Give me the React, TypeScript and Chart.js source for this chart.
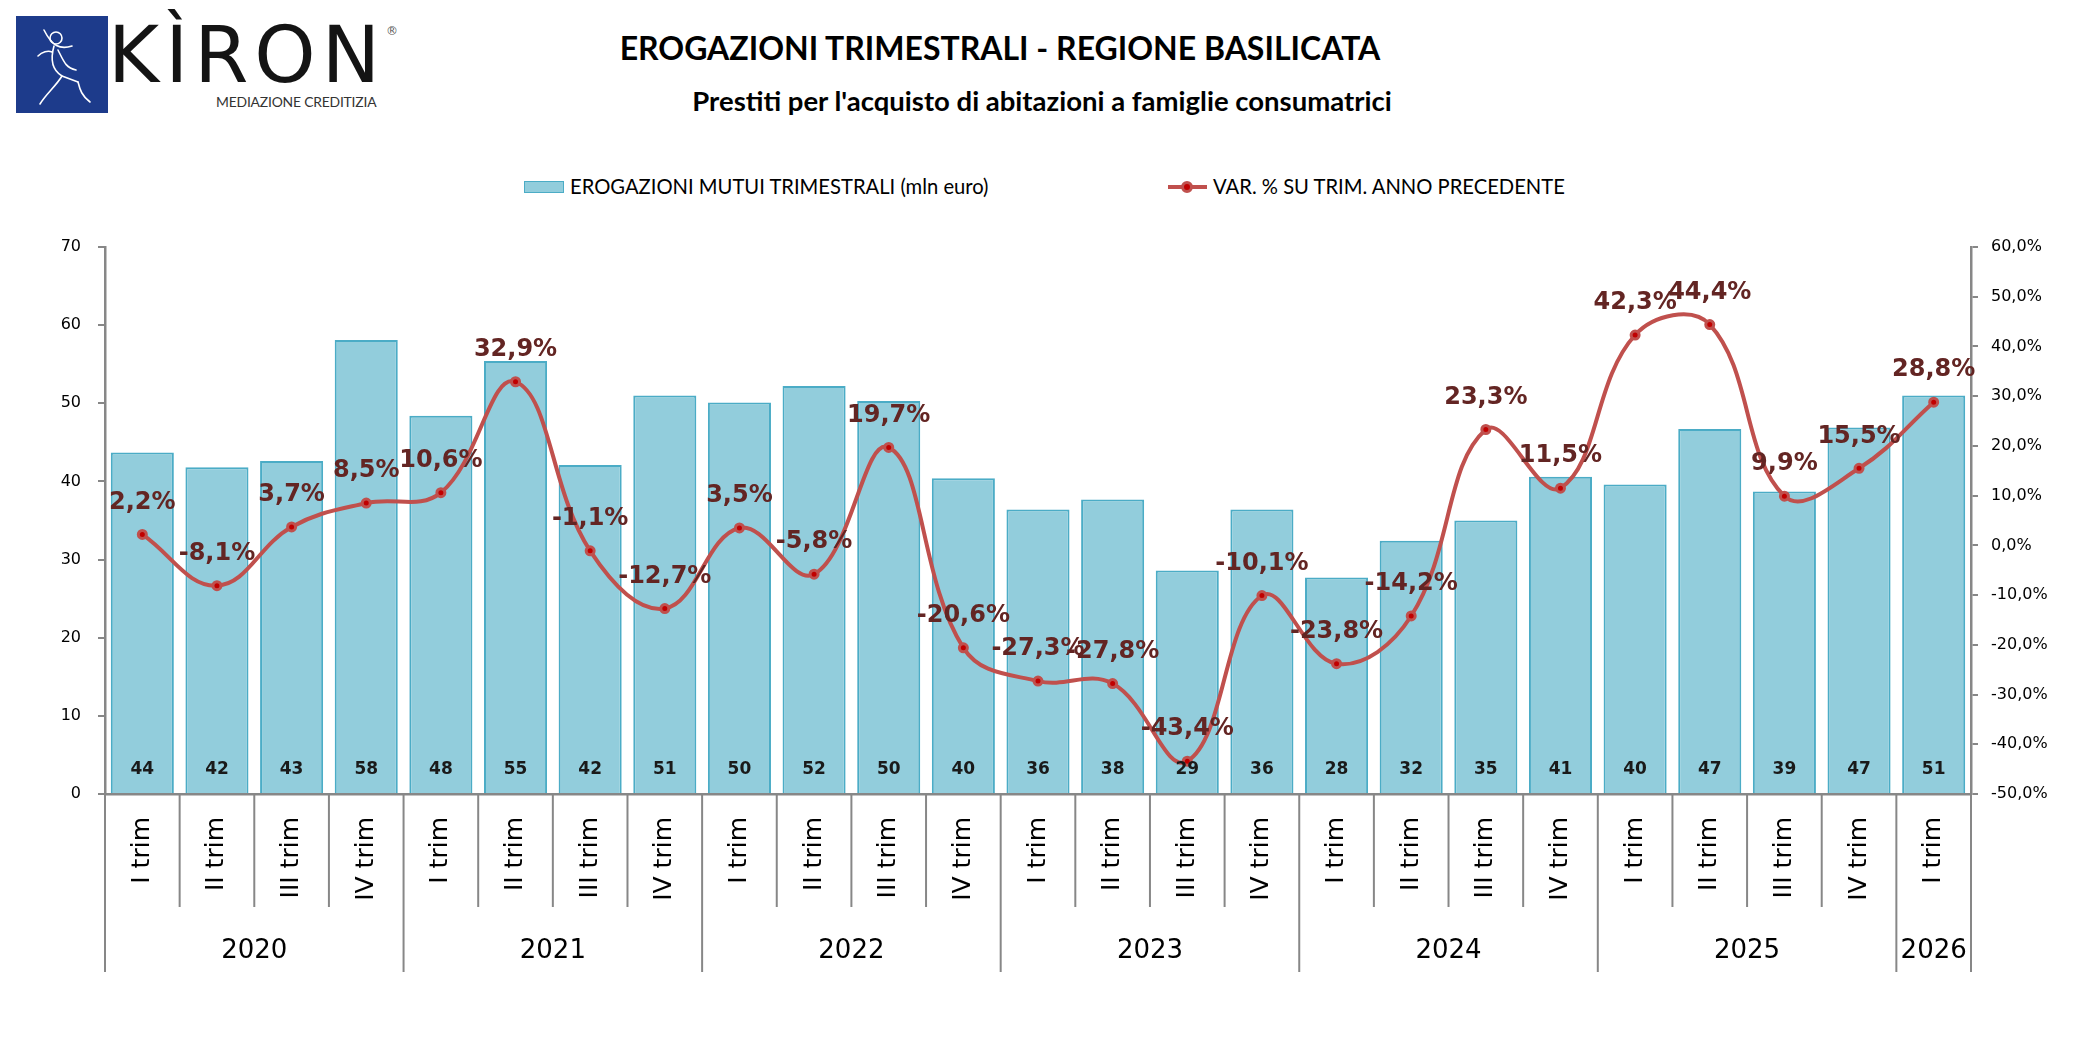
import { useEffect, useRef } from 'react';
import { Chart, registerables } from 'chart.js';

Chart.register(...registerables);

const quarters = [
  'I trim', 'II trim', 'III trim', 'IV trim',
  'I trim', 'II trim', 'III trim', 'IV trim',
  'I trim', 'II trim', 'III trim', 'IV trim',
  'I trim', 'II trim', 'III trim', 'IV trim',
  'I trim', 'II trim', 'III trim', 'IV trim',
  'I trim', 'II trim', 'III trim', 'IV trim',
  'I trim',
];

const years = [
  '2020', '2020', '2020', '2020',
  '2021', '2021', '2021', '2021',
  '2022', '2022', '2022', '2022',
  '2023', '2023', '2023', '2023',
  '2024', '2024', '2024', '2024',
  '2025', '2025', '2025', '2025',
  '2026',
];

// milioni di euro
const erogazioni = [
  43.7, 41.8, 42.6, 58.1,
  48.4, 55.4, 42.1, 51.0,
  50.1, 52.2, 50.3, 40.4,
  36.4, 37.7, 28.6, 36.4,
  27.7, 32.4, 35.0, 40.6,
  39.6, 46.7, 38.7, 46.9,
  51.0,
];

// variazione % sullo stesso trimestre dell'anno precedente
const variazione = [
  2.2, -8.1, 3.7, 8.5,
  10.6, 32.9, -1.1, -12.7,
  3.5, -5.8, 19.7, -20.6,
  -27.3, -27.8, -43.4, -10.1,
  -23.8, -14.2, 23.3, 11.5,
  42.3, 44.4, 9.9, 15.5,
  28.8,
];

const barLabel = 'EROGAZIONI MUTUI TRIMESTRALI (mln euro)';
const lineLabel = 'VAR. % SU TRIM. ANNO PRECEDENTE';

const BAR_FILL = '#92CDDC';
const BAR_BORDER = '#4BACC6';
const LINE_COLOR = '#C0504D';
const AXIS_COLOR = '#878787';

const fmtPct = (v: number) => v.toFixed(1).replace('.', ',') + '%';

const overlayPlugin = {
  id: 'overlay',
  afterDraw(chart: any) {
    const { ctx, chartArea, scales } = chart;
    const xs = scales.x;
    const n = quarters.length;
    const bounds: number[] = [];
    for (let i = 0; i <= n; i++) {
      if (i === 0) bounds.push(chartArea.left);
      else if (i === n) bounds.push(chartArea.right);
      else bounds.push((xs.getPixelForValue(i - 1) + xs.getPixelForValue(i)) / 2);
    }
    const base = chartArea.bottom;

    ctx.save();
    // separatori trimestri / anni
    ctx.strokeStyle = AXIS_COLOR;
    ctx.lineWidth = 2;
    for (let i = 0; i <= n; i++) {
      const yearEdge = i === 0 || i === n || years[i] !== years[i - 1];
      ctx.beginPath();
      ctx.moveTo(bounds[i], base);
      ctx.lineTo(bounds[i], base + (yearEdge ? 178 : 113));
      ctx.stroke();
    }

    // etichette anni
    ctx.fillStyle = '#000';
    ctx.font = '26px "DejaVu Sans"';
    ctx.textAlign = 'center';
    ctx.textBaseline = 'middle';
    let start = 0;
    for (let i = 1; i <= n; i++) {
      if (i === n || years[i] !== years[start]) {
        ctx.fillText(years[start], (bounds[start] + bounds[i]) / 2, base + 157);
        start = i;
      }
    }

    // valori barre
    const barMeta = chart.getDatasetMeta(0);
    ctx.font = 'bold 17px "DejaVu Sans"';
    ctx.fillStyle = '#1A1A1A';
    barMeta.data.forEach((el: any, i: number) => {
      ctx.fillText(String(Math.round(erogazioni[i])), el.x, base - 24);
    });

    // valori linea
    const lineMeta = chart.getDatasetMeta(1);
    ctx.font = 'bold 24px "DejaVu Sans"';
    ctx.fillStyle = '#632523';
    lineMeta.data.forEach((el: any, i: number) => {
      ctx.fillText(fmtPct(variazione[i]), el.x, el.y - 32);
    });
    ctx.restore();
  },
};

function Logo() {
  return (
    <div style={{ position: 'absolute', left: 16, top: 16, width: 400, height: 100 }}>
      <svg width="92" height="97" style={{ position: 'absolute', left: 0, top: 0 }}>
        <rect x="0" y="0" width="92" height="97" fill="#1D3B8B" />
        <g fill="none" stroke="#FFFFFF" strokeWidth="1.6" strokeLinecap="round">
          <circle cx="40" cy="22" r="6" />
          <path d="M28 14 C36 30, 44 34, 56 30" />
          <path d="M38 30 C34 44, 36 54, 46 60 L62 66" />
          <path d="M42 34 C48 46, 50 52, 60 54" />
          <path d="M46 60 C40 70, 30 78, 24 88" />
          <path d="M62 66 C64 74, 66 80, 74 86" />
          <path d="M22 40 C26 36, 32 34, 36 36" />
        </g>
      </svg>
      <div
        style={{
          position: 'absolute', left: 92, top: -6, fontFamily: '"DejaVu Sans"',
          fontSize: 78, letterSpacing: 6, color: '#141414', lineHeight: '90px',
        }}
      >
        KÌRON
      </div>
      <div
        style={{
          position: 'absolute', left: 370, top: 8, fontFamily: '"DejaVu Sans"',
          fontSize: 12, color: '#555',
        }}
      >
        ®
      </div>
      <div
        style={{
          position: 'absolute', left: 200, top: 77, fontFamily: 'Lato',
          fontSize: 13.9, color: '#333', letterSpacing: -0.2,
        }}
      >
        MEDIAZIONE CREDITIZIA
      </div>
    </div>
  );
}

function Legend() {
  const text: React.CSSProperties = {
    position: 'absolute', top: 173, fontFamily: 'Lato',
    fontSize: 20.2, lineHeight: '26px', color: '#000', whiteSpace: 'nowrap',
  };
  return (
    <>
      <div
        style={{
          position: 'absolute', left: 524, top: 181, width: 38, height: 10,
          background: BAR_FILL, border: `1.5px solid ${BAR_BORDER}`,
        }}
      />
      <div style={{ ...text, left: 570 }}>{barLabel}</div>
      <div
        style={{
          position: 'absolute', left: 1168, top: 185, width: 39, height: 4, background: LINE_COLOR,
        }}
      />
      <div
        style={{
          position: 'absolute', left: 1181, top: 181, width: 6, height: 6, borderRadius: '50%',
          background: '#C00000', border: `3px solid ${LINE_COLOR}`,
        }}
      />
      <div style={{ ...text, left: 1213 }}>{lineLabel}</div>
    </>
  );
}

export default function App() {
  const chartRef = useRef<HTMLCanvasElement>(null);
  const chartInstance = useRef<Chart | null>(null);

  useEffect(() => {
    if (!chartRef.current) return;
    const ctx = chartRef.current.getContext('2d');
    if (!ctx) return;
    if (chartInstance.current) chartInstance.current.destroy();

    chartInstance.current = new Chart(ctx, {
      type: 'bar',
      data: {
        labels: quarters,
        datasets: [
          {
            type: 'bar',
            label: barLabel,
            data: erogazioni,
            backgroundColor: BAR_FILL,
            borderColor: BAR_BORDER,
            borderWidth: 2,
            barPercentage: 0.845,
            categoryPercentage: 1,
            yAxisID: 'y',
            order: 1,
          },
          {
            type: 'line',
            label: lineLabel,
            data: variazione,
            borderColor: LINE_COLOR,
            borderWidth: 4,
            tension: 0.4,
            fill: false,
            pointRadius: 4,
            pointBorderWidth: 3,
            pointBackgroundColor: '#C00000',
            pointBorderColor: LINE_COLOR,
            yAxisID: 'y1',
            order: 0,
          },
        ],
      },
      options: {
        responsive: true,
        maintainAspectRatio: false,
        animation: false,
        layout: { padding: { top: 247, left: 0, right: 0, bottom: 0 } },
        plugins: {
          legend: { display: false },
          title: { display: false },
          tooltip: { enabled: false },
        },
        scales: {
          x: {
            offset: true,
            grid: { display: false, drawTicks: false },
            border: { display: true, color: AXIS_COLOR, width: 2.5 },
            ticks: {
              autoSkip: false,
              minRotation: 90,
              maxRotation: 90,
              padding: 23,
              color: '#000',
              font: { family: '"DejaVu Sans"', size: 25 },
            },
            afterFit: (s: any) => { s.height = 248; },
          },
          y: {
            position: 'left',
            min: 0,
            max: 70,
            ticks: {
              stepSize: 10,
              padding: 17,
              color: '#000',
              font: { family: '"DejaVu Sans"', size: 16 },
            },
            grid: { display: true, drawOnChartArea: false, drawTicks: true, tickLength: 7, color: AXIS_COLOR, lineWidth: 2 },
            border: { display: true, color: AXIS_COLOR, width: 2.5 },
            afterFit: (s: any) => { s.width = 105; },
          },
          y1: {
            position: 'right',
            min: -50,
            max: 60,
            ticks: {
              stepSize: 10,
              padding: 13,
              color: '#000',
              font: { family: '"DejaVu Sans"', size: 16 },
              callback: (v: any) => fmtPct(Number(v)),
            },
            grid: { display: true, drawOnChartArea: false, drawTicks: true, tickLength: 7, color: AXIS_COLOR, lineWidth: 2 },
            border: { display: true, color: AXIS_COLOR, width: 2.5 },
            afterFit: (s: any) => { s.width = 105; },
          },
        },
      },
      plugins: [overlayPlugin],
    });

    return () => {
      if (chartInstance.current) {
        chartInstance.current.destroy();
        chartInstance.current = null;
      }
    };
  }, []);

  return (
    <div style={{ position: 'fixed', left: 0, top: 0, width: 2076, height: 1042, background: '#fff', overflow: 'hidden' }}>
      <Logo />
      <div
        style={{
          position: 'absolute', left: 0, width: 2000, top: 28, textAlign: 'center',
          fontFamily: 'Lato', fontWeight: 'bold', fontSize: 32, lineHeight: '40px', color: '#000',
        }}
      >
        EROGAZIONI TRIMESTRALI - REGIONE BASILICATA
      </div>
      <div
        style={{
          position: 'absolute', left: 0, width: 2084, top: 85, textAlign: 'center',
          fontFamily: 'Lato', fontWeight: 'bold', fontSize: 27.5, lineHeight: '32px', color: '#000',
        }}
      >
        Prestiti per l'acquisto di abitazioni a famiglie consumatrici
      </div>
      <Legend />
      <div style={{ position: 'absolute', left: 0, top: 0, width: 2076, height: 1042 }}>
        <canvas ref={chartRef}></canvas>
      </div>
    </div>
  );
}
